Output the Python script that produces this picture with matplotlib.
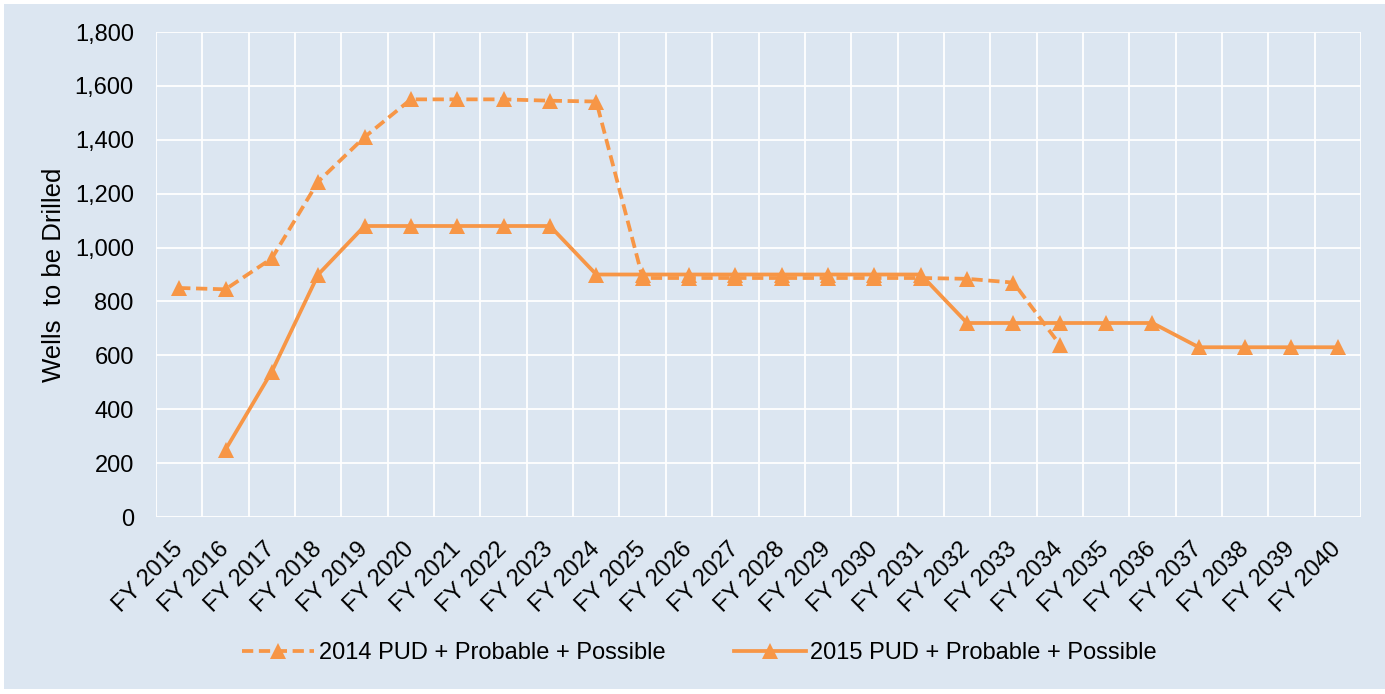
import matplotlib
matplotlib.use("Agg")
import matplotlib.pyplot as plt
from matplotlib.patches import Rectangle
import numpy as np

plt.rcParams['font.family'] = ['Liberation Sans', 'DejaVu Sans']

years = [f"FY {y}" for y in range(2015, 2041)]
series_2014 = [850, 845, 960, 1245, 1410, 1550, 1550, 1550, 1545, 1542,
               887, 887, 887, 887, 887, 887, 887, 884, 870, 640,
               None, None, None, None, None, None]
series_2015 = [None, 250, 540, 900, 1080, 1080, 1080, 1080, 1080, 900,
               900, 900, 900, 900, 900, 900, 900, 720, 720, 720,
               720, 720, 630, 630, 630, 630]
label_2014 = "2014 PUD + Probable + Possible"
label_2015 = "2015 PUD + Probable + Possible"
yticks = [0, 200, 400, 600, 800, 1000, 1200, 1400, 1600, 1800]

bg = '#dce6f1'
orange = '#f79646'
W, H = 1385, 694

fig = plt.figure(figsize=(W / 100, H / 100), dpi=100, facecolor='white')
fig.add_artist(Rectangle((4 / W, 5 / H), 1 - 4 / W, 1 - 9 / H,
                         transform=fig.transFigure, facecolor=bg,
                         edgecolor='none', zorder=-10))

ax = fig.add_axes([156 / W, 1 - 517 / H, (1361 - 156) / W, (517 - 32) / H])
ax.set_facecolor(bg)

x = np.arange(len(years))
y14 = np.array([np.nan if v is None else v for v in series_2014], dtype=float)
y15 = np.array([np.nan if v is None else v for v in series_2015], dtype=float)

ax.plot(x, y14, color=orange, lw=2.7, ls=(0, (3, 1.5)), marker='^', ms=12,
        markeredgewidth=0, label=label_2014, zorder=3)
ax.plot(x, y15, color=orange, lw=2.7, ls='-', marker='^', ms=12,
        markeredgewidth=0, label=label_2015, zorder=3)

ax.set_xlim(-0.5, len(years) - 0.5)
ax.set_ylim(0, 1800)
ax.set_yticks(yticks)
ax.set_yticklabels([f"{v:,}" for v in yticks], fontsize=17)
ax.set_xticks(x)
ax.set_xticklabels(years, rotation=45, ha='right', va='center',
                   rotation_mode='anchor', fontsize=17)
ax.tick_params(axis='y', length=0, pad=16)
ax.tick_params(axis='x', length=0, pad=21)

# grid: horizontal at ticks, vertical at category boundaries
for v in yticks:
    ax.axhline(v, color='white', lw=1.3, zorder=1)
for b in np.arange(-0.5, len(years), 1.0):
    ax.axvline(b, color='white', lw=1.3, zorder=1)
for s in ax.spines.values():
    s.set_visible(False)

ax.set_ylabel("Wells  to be Drilled", fontsize=18.5)
ax.yaxis.set_label_coords((66 - 156) / (1361 - 156), 0.5)

fig.legend(loc='center', bbox_to_anchor=(0.505, 1 - 653 / H), ncol=2, frameon=False,
           fontsize=17, handlelength=3.05, columnspacing=2.9, handletextpad=0.2)

fig.savefig("out.png", dpi=100, facecolor='white')
